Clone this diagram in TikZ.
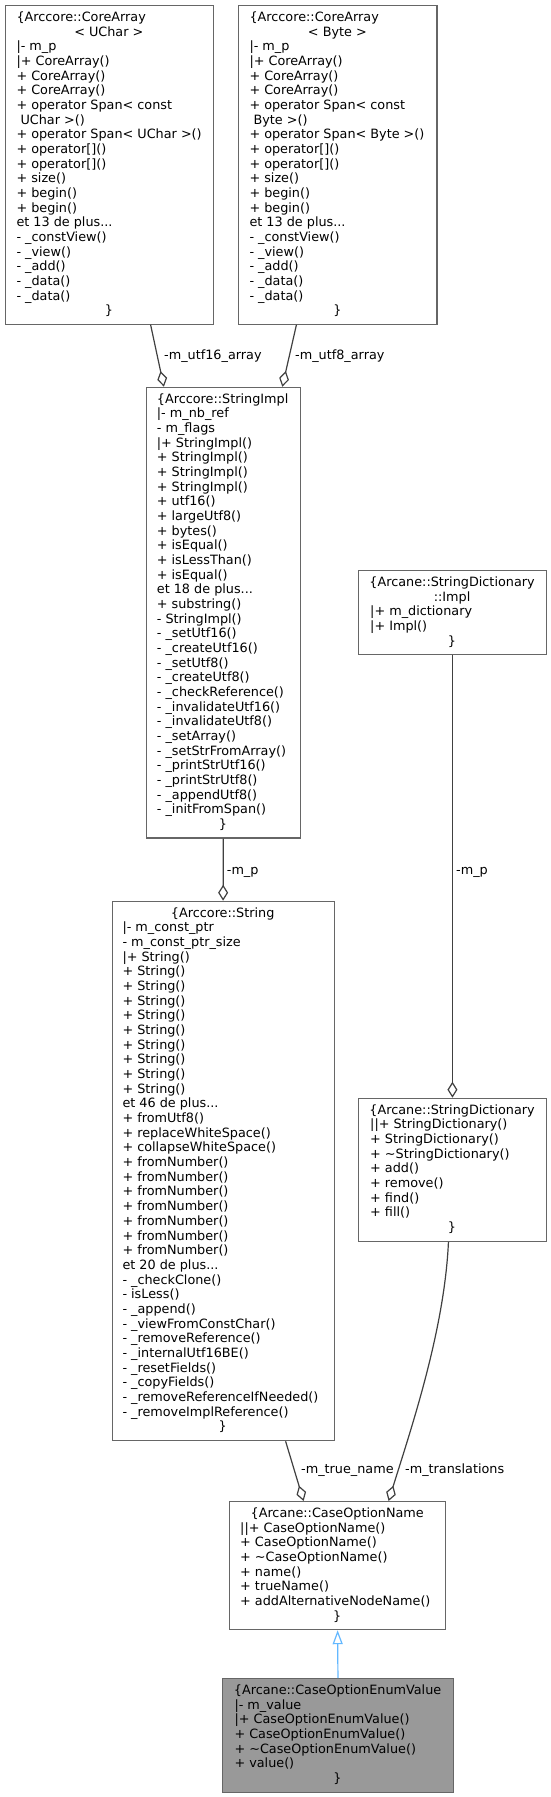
\documentclass[tikz,border=0pt]{standalone}
\usepackage{fontspec}
\setmainfont{DejaVu Sans}
\usetikzlibrary{arrows.meta}
\newcommand\ctrline[2]{\makebox[#1pt][c]{#2}}
\definecolor{boxborder}{HTML}{666666}
\definecolor{edgegray}{HTML}{404040}
\definecolor{rootfill}{HTML}{999999}
\definecolor{inhblue}{HTML}{63B8FF}
\tikzset{
  classbox/.style={draw=boxborder, line width=1.2pt, fill=white, inner sep=0pt, anchor=north west},
  classtext/.style={inner sep=0pt, anchor=base west, align=left, font=\fontsize{12.8}{14.67}\selectfont},
  edgelabel/.style={inner sep=0pt, anchor=base west, font=\fontsize{12.8}{14.67}\selectfont},
  member/.style={draw=edgegray, line width=1.2pt, -{Diamond[open, length=16pt, width=10pt]}},
  inherit/.style={draw=inhblue, line width=1.2pt, -{Triangle[open, length=14pt, width=10pt]}},
}
\begin{document}
\begin{tikzpicture}[x=1pt, y=-1pt]
\fill[white] (0,0) rectangle (551,1797);
\useasboundingbox (0,0) rectangle (551,1797);

% boxes
\node[classbox, minimum width=208.1pt, minimum height=318.5pt] (ua) at (4.6,5) {};
\node[classbox, minimum width=198.7pt, minimum height=318.5pt] (by) at (237.7,5) {};
\node[classbox, minimum width=154.5pt, minimum height=450.6pt] (si) at (145.5,386.7) {};
\node[classbox, minimum width=188.3pt, minimum height=84pt] (im) at (357.7,570) {};
\node[classbox, minimum width=222pt, minimum height=539.3pt] (st) at (111.5,900.7) {};
\node[classbox, minimum width=188.3pt, minimum height=143pt] (sd) at (357.7,1097.7) {};
\node[classbox, minimum width=216pt, minimum height=128pt] (cn) at (229,1501) {};
\node[classbox, fill=rootfill, minimum width=230.7pt, minimum height=113.7pt] (ev) at (222,1678) {};

% texts (anchored at the baseline of their last line)
\node[classtext] (ua-t) at (16.3,314.9) {\{Arccore::CoreArray\\
\ctrline{184.7}{< UChar >}\\
|- m\_p\\
|+ CoreArray()\\
+ CoreArray()\\
+ CoreArray()\\
+ operator Span< const\\
\hspace*{4.07pt}UChar >()\\
+ operator Span< UChar >()\\
+ operator[]()\\
+ operator[]()\\
+ size()\\
+ begin()\\
+ begin()\\
et 13 de plus...\\
- \_constView()\\
- \_view()\\
- \_add()\\
- \_data()\\
- \_data()\\
\ctrline{184.7}{\}}};

\node[classtext] (by-t) at (249.3,314.9) {\{Arccore::CoreArray\\
\ctrline{175.8}{< Byte >}\\
|- m\_p\\
|+ CoreArray()\\
+ CoreArray()\\
+ CoreArray()\\
+ operator Span< const\\
\hspace*{4.07pt}Byte >()\\
+ operator Span< Byte >()\\
+ operator[]()\\
+ operator[]()\\
+ size()\\
+ begin()\\
+ begin()\\
et 13 de plus...\\
- \_constView()\\
- \_view()\\
- \_add()\\
- \_data()\\
- \_data()\\
\ctrline{175.8}{\}}};

\node[classtext] (si-t) at (156.7,828.6) {\{Arccore::StringImpl\\
|- m\_nb\_ref\\
- m\_flags\\
|+ StringImpl()\\
+ StringImpl()\\
+ StringImpl()\\
+ StringImpl()\\
+ utf16()\\
+ largeUtf8()\\
+ bytes()\\
+ isEqual()\\
+ isLessThan()\\
+ isEqual()\\
et 18 de plus...\\
+ substring()\\
- StringImpl()\\
- \_setUtf16()\\
- \_createUtf16()\\
- \_setUtf8()\\
- \_createUtf8()\\
- \_checkReference()\\
- \_invalidateUtf16()\\
- \_invalidateUtf8()\\
- \_setArray()\\
- \_setStrFromArray()\\
- \_printStrUtf16()\\
- \_printStrUtf8()\\
- \_appendUtf8()\\
- \_initFromSpan()\\
\ctrline{132.1}{\}}};

\node[classtext] (im-t) at (370,645.2) {\ctrline{163.7}{\{Arcane::StringDictionary}\\
\ctrline{163.7}{::Impl}\\
|+ m\_dictionary\\
|+ Impl()\\
\ctrline{163.7}{\}}};

\node[classtext] (st-t) at (122.3,1430.7) {\ctrline{200.4}{\{Arccore::String}\\
|- m\_const\_ptr\\
- m\_const\_ptr\_size\\
|+ String()\\
+ String()\\
+ String()\\
+ String()\\
+ String()\\
+ String()\\
+ String()\\
+ String()\\
+ String()\\
+ String()\\
et 46 de plus...\\
+ fromUtf8()\\
+ replaceWhiteSpace()\\
+ collapseWhiteSpace()\\
+ fromNumber()\\
+ fromNumber()\\
+ fromNumber()\\
+ fromNumber()\\
+ fromNumber()\\
+ fromNumber()\\
+ fromNumber()\\
et 20 de plus...\\
- \_checkClone()\\
- isLess()\\
- \_append()\\
- \_viewFromConstChar()\\
- \_removeReference()\\
- \_internalUtf16BE()\\
- \_resetFields()\\
- \_copyFields()\\
- \_removeReferenceIfNeeded()\\
- \_removeImplReference()\\
\ctrline{200.4}{\}}};

\node[classtext] (sd-t) at (370,1231.6) {\ctrline{163.7}{\{Arcane::StringDictionary}\\
||+ StringDictionary()\\
+ StringDictionary()\\
+ \textasciitilde StringDictionary()\\
+ add()\\
+ remove()\\
+ find()\\
+ fill()\\
\ctrline{163.7}{\}}};

\node[classtext] (cn-t) at (240,1620.2) {\ctrline{194}{\{Arcane::CaseOptionName}\\
||+ CaseOptionName()\\
+ CaseOptionName()\\
+ \textasciitilde CaseOptionName()\\
+ name()\\
+ trueName()\\
+ addAlternativeNodeName()\\
\ctrline{194}{\}}};

\node[classtext] (ev-t) at (234.3,1782.5) {\ctrline{206.1}{\{Arcane::CaseOptionEnumValue}\\
|- m\_value\\
|+ CaseOptionEnumValue()\\
+ CaseOptionEnumValue()\\
+ \textasciitilde CaseOptionEnumValue()\\
+ value()\\
\ctrline{206.1}{\}}};

% connectors
\draw[member] ([xshift=41.35pt]ua.south) -- ([xshift=-59.45pt]si.north);
\draw[member] ([xshift=-41.2pt]by.south) -- ([xshift=58.95pt]si.north);
\draw[member] (si.south) -- (st.north);
\draw[member] (im.south) -- (sd.north);
\draw[member] ([xshift=62.5pt]st.south) -- ([xshift=-34pt]cn.north);
\draw[member] ([xshift=-4pt]sd.south) .. controls +(-4,89) and +(22,-71) .. ([xshift=51pt]cn.north);
\draw[inherit] (ev.north) -- (cn.south);

% labels
\node[edgelabel] (l1) at (164,359.6) {-m\_utf16\_array};
\node[edgelabel] (l2) at (295,359.6) {-m\_utf8\_array};
\node[edgelabel] (l3) at (226.7,874) {-m\_p};
\node[edgelabel] (l4) at (456,874) {-m\_p};
\node[edgelabel] (l5) at (301,1473) {-m\_true\_name};
\node[edgelabel] (l6) at (405,1473) {-m\_translations};
\end{tikzpicture}
\end{document}
